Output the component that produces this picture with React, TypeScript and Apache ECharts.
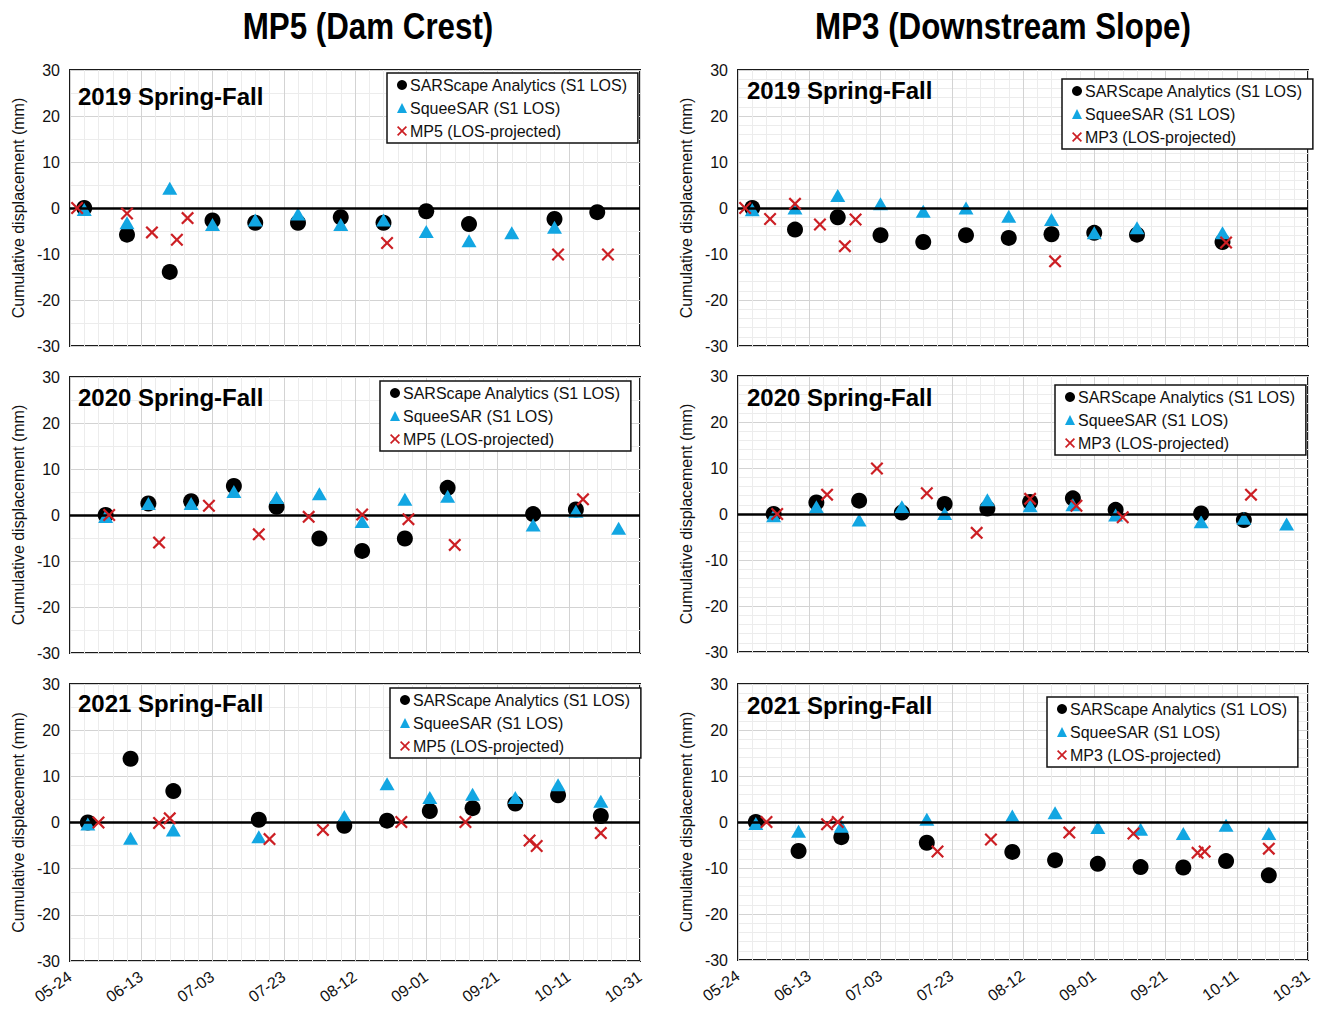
import React, { useEffect, useRef } from "react";
import * as echarts from "echarts";

// ---------- tick labels ----------
const xTickLabels = ["05-24", "06-13", "07-03", "07-23", "08-12", "09-01", "09-21", "10-11", "10-31"];
const yMin = -30;
const yMax = 30;
const yStep = 10;

// ---------- series names ----------
const NAME_SAR = "SARScape Analytics (S1 LOS)";
const NAME_SQ = "SqueeSAR (S1 LOS)";
const NAME_MP5 = "MP5 (LOS-projected)";
const NAME_MP3 = "MP3 (LOS-projected)";

type Pt = [string, number];

// ---------- 2019 MP5 ----------
const mp5_2019_sar: Pt[] = [["05-28", 0], ["06-09", -5.8], ["06-21", -13.9], ["07-03", -2.7], ["07-15", -3.2], ["07-27", -3.2], ["08-08", -2.0], ["08-20", -3.2], ["09-01", -0.7], ["09-13", -3.5], ["10-07", -2.4], ["10-19", -0.9]];
const mp5_2019_sq: Pt[] = [["05-28", -0.3], ["06-09", -3.2], ["06-21", 4.3], ["07-03", -3.6], ["07-15", -2.6], ["07-27", -1.3], ["08-08", -3.6], ["08-20", -2.6], ["09-01", -5.1], ["09-13", -7.1], ["09-25", -5.4], ["10-07", -4.2]];
const mp5_2019_gt: Pt[] = [["05-26", 0], ["06-09", -1.2], ["06-16", -5.3], ["06-23", -6.9], ["06-26", -2.2], ["08-21", -7.6], ["10-08", -10.1], ["10-22", -10.1]];

// ---------- 2019 MP3 ----------
const mp3_2019_sar: Pt[] = [["05-28", 0], ["06-09", -4.7], ["06-21", -2.0], ["07-03", -5.9], ["07-15", -7.4], ["07-27", -5.9], ["08-08", -6.5], ["08-20", -5.7], ["09-01", -5.4], ["09-13", -5.8], ["10-07", -7.4]];
const mp3_2019_sq: Pt[] = [["05-28", -0.4], ["06-09", 0], ["06-21", 2.7], ["07-03", 0.9], ["07-15", -0.7], ["07-27", 0], ["08-08", -1.8], ["08-20", -2.5], ["09-01", -5.4], ["09-13", -4.3], ["10-07", -5.4]];
const mp3_2019_gt: Pt[] = [["05-26", 0], ["06-02", -2.4], ["06-09", 0.9], ["06-16", -3.6], ["06-23", -8.3], ["06-26", -2.5], ["08-21", -11.6], ["10-08", -7.5]];

// ---------- 2020 MP5 ----------
const mp5_2020_sar: Pt[] = [["06-03", 0], ["06-15", 2.5], ["06-27", 3.0], ["07-09", 6.3], ["07-21", 1.8], ["08-02", -5.1], ["08-14", -7.8], ["08-26", -5.1], ["09-07", 5.9], ["10-01", 0.2], ["10-13", 1.2]];
const mp5_2020_sq: Pt[] = [["06-03", -0.3], ["06-15", 2.5], ["06-27", 2.5], ["07-09", 5.1], ["07-21", 3.8], ["08-02", 4.6], ["08-14", -1.4], ["08-26", 3.4], ["09-07", 4.1], ["10-01", -2.2], ["10-13", 0.8], ["10-25", -2.9]];
const mp5_2020_gt: Pt[] = [["06-04", 0], ["06-18", -6.0], ["07-02", 2.0], ["07-16", -4.2], ["07-30", -0.4], ["08-14", 0.1], ["08-27", -0.9], ["09-09", -6.5], ["10-15", 3.4]];

// ---------- 2020 MP3 ----------
const mp3_2020_sar: Pt[] = [["06-03", 0], ["06-15", 2.5], ["06-27", 2.9], ["07-09", 0.3], ["07-21", 2.2], ["08-02", 1.2], ["08-14", 2.6], ["08-26", 3.4], ["09-07", 0.9], ["10-01", 0.1], ["10-13", -1.3]];
const mp3_2020_sq: Pt[] = [["06-03", -0.4], ["06-15", 1.6], ["06-27", -1.3], ["07-09", 1.6], ["07-21", 0.1], ["08-02", 3.1], ["08-14", 1.8], ["08-26", 2.0], ["09-07", -0.2], ["10-01", -1.7], ["10-13", -0.9], ["10-25", -2.2]];
const mp3_2020_gt: Pt[] = [["06-04", 0], ["06-18", 4.2], ["07-02", 9.9], ["07-16", 4.5], ["07-30", -4.1], ["08-14", 3.3], ["08-27", 1.8], ["09-09", -0.7], ["10-15", 4.2]];

// ---------- 2021 MP5 ----------
const mp5_2021_sar: Pt[] = [["05-29", 0], ["06-10", 13.8], ["06-22", 6.8], ["07-16", 0.6], ["08-09", -0.7], ["08-21", 0.4], ["09-02", 2.5], ["09-14", 3.1], ["09-26", 4.1], ["10-08", 5.9], ["10-20", 1.4]];
const mp5_2021_sq: Pt[] = [["05-29", -0.3], ["06-10", -3.4], ["06-22", -1.6], ["07-16", -3.1], ["08-09", 1.3], ["08-21", 8.4], ["09-02", 5.4], ["09-14", 6.1], ["09-26", 5.4], ["10-08", 8.2], ["10-20", 4.6]];
const mp5_2021_gt: Pt[] = [["06-01", 0], ["06-18", -0.1], ["06-21", 0.9], ["07-19", -3.6], ["08-03", -1.6], ["08-25", 0.1], ["09-12", 0.1], ["09-30", -3.9], ["10-02", -5.1], ["10-20", -2.3]];

// ---------- 2021 MP3 ----------
const mp3_2021_sar: Pt[] = [["05-29", 0], ["06-10", -6.3], ["06-22", -3.3], ["07-16", -4.5], ["08-09", -6.5], ["08-21", -8.3], ["09-02", -9.1], ["09-14", -9.8], ["09-26", -9.9], ["10-08", -8.5], ["10-20", -11.6]];
const mp3_2021_sq: Pt[] = [["05-29", -0.3], ["06-10", -2.0], ["06-22", -0.9], ["07-16", 0.6], ["08-09", 1.3], ["08-21", 2.0], ["09-02", -1.2], ["09-14", -1.6], ["09-26", -2.5], ["10-08", -0.7], ["10-20", -2.5]];
const mp3_2021_gt: Pt[] = [["06-01", 0], ["06-18", -0.5], ["06-21", 0], ["07-19", -6.4], ["08-03", -3.8], ["08-25", -2.3], ["09-12", -2.5], ["09-30", -6.7], ["10-02", -6.4], ["10-20", -5.8]];

const panelLabels = ["2019 Spring-Fall", "2019 Spring-Fall", "2020 Spring-Fall", "2020 Spring-Fall", "2021 Spring-Fall", "2021 Spring-Fall"];
const columnTitles = ["MP5 (Dam Crest)", "MP3 (Downstream Slope)"];

const panelData = [
  { sar: mp5_2019_sar, sq: mp5_2019_sq, gt: mp5_2019_gt, gtName: NAME_MP5 },
  { sar: mp3_2019_sar, sq: mp3_2019_sq, gt: mp3_2019_gt, gtName: NAME_MP3 },
  { sar: mp5_2020_sar, sq: mp5_2020_sq, gt: mp5_2020_gt, gtName: NAME_MP5 },
  { sar: mp3_2020_sar, sq: mp3_2020_sq, gt: mp3_2020_gt, gtName: NAME_MP3 },
  { sar: mp5_2021_sar, sq: mp5_2021_sq, gt: mp5_2021_gt, gtName: NAME_MP5 },
  { sar: mp3_2021_sar, sq: mp3_2021_sq, gt: mp3_2021_gt, gtName: NAME_MP3 },
];

// ---------- layout (positions / styles) ----------
const layout = [
  { left: 70, top: 70, height: 276, minorY: 2, showX: false, labelX: 78, labelY: 96, legL: 387, legT: 73 },
  { left: 738, top: 70, height: 276, minorY: 5, showX: false, labelX: 747, labelY: 90, legL: 1062, legT: 79 },
  { left: 70, top: 377, height: 276, minorY: 2, showX: false, labelX: 78, labelY: 397, legL: 380, legT: 381 },
  { left: 738, top: 376, height: 276, minorY: 5, showX: false, labelX: 747, labelY: 397, legL: 1055, legT: 385 },
  { left: 70, top: 684, height: 277, minorY: 2, showX: true, labelX: 78, labelY: 703, legL: 390, legT: 688 },
  { left: 738, top: 684, height: 276, minorY: 5, showX: true, labelX: 747, labelY: 705, legL: 1047, legT: 697 },
];
const PLOT_W = 570;
const FONT = "Arial, 'Liberation Sans', Helvetica, sans-serif";
const C_SAR = "#000000";
const C_SQ = "#12a6e2";
const C_GT = "#cc1f24";
const CROSS = "path://M0,1.2 L1.2,0 L5,3.8 L8.8,0 L10,1.2 L6.2,5 L10,8.8 L8.8,10 L5,6.2 L1.2,10 L0,8.8 L3.8,5 Z";

const BASE = Date.UTC(2019, 4, 24);
function dayOf(mmdd: string): number {
  const [m, d] = mmdd.split("-").map(Number);
  return (Date.UTC(2019, m - 1, d) - BASE) / 86400000;
}
const xMin = dayOf(xTickLabels[0]);
const xMax = dayOf(xTickLabels[xTickLabels.length - 1]);
const xStep = dayOf(xTickLabels[1]) - xMin;

function buildOption() {
  const grid: any[] = [];
  const xAxis: any[] = [];
  const yAxis: any[] = [];
  const series: any[] = [];
  const legend: any[] = [];
  const graphic: any[] = [];

  layout.forEach((L, i) => {
    const P = panelData[i];
    grid.push({
      left: L.left, top: L.top, width: PLOT_W, height: L.height,
      show: true, borderColor: "#1a1a1a", borderWidth: 2, backgroundColor: "transparent",
    });
    xAxis.push({
      type: "value", gridIndex: i, min: xMin, max: xMax, interval: xStep,
      axisLine: { show: false }, axisTick: { show: false },
      axisLabel: {
        show: L.showX, rotate: 35, fontSize: 16, color: "#111", fontFamily: FONT, margin: 14,
        formatter: (v: number) => xTickLabels[Math.round((v - xMin) / xStep)] ?? "",
      },
      splitLine: { show: true, lineStyle: { color: "#d3d3d3", width: 1 } },
      minorTick: { show: false, splitNumber: 5 },
      minorSplitLine: { show: true, lineStyle: { color: "#ececec", width: 1 } },
    });
    yAxis.push({
      type: "value", gridIndex: i, min: yMin, max: yMax, interval: yStep,
      axisLine: { show: false }, axisTick: { show: false },
      axisLabel: { fontSize: 16, color: "#111", fontFamily: FONT, margin: 10 },
      name: "Cumulative displacement (mm)", nameLocation: "middle", nameGap: 44,
      nameTextStyle: { fontSize: 16, color: "#111", fontFamily: FONT },
      splitLine: { show: true, lineStyle: { color: "#d3d3d3", width: 1 } },
      minorTick: { show: false, splitNumber: L.minorY },
      minorSplitLine: { show: true, lineStyle: { color: "#ececec", width: 1 } },
    });
    series.push({
      type: "scatter", name: NAME_SAR, xAxisIndex: i, yAxisIndex: i,
      data: P.sar.map(([d, v]) => [dayOf(d), v]),
      symbol: "circle", symbolSize: 16, itemStyle: { color: C_SAR, opacity: 1 }, silent: true, z: 3,
      markLine: {
        silent: true, symbol: ["none", "none"], label: { show: false },
        lineStyle: { color: "#000", width: 2.5, type: "solid", opacity: 1 },
        data: [{ yAxis: 0 }],
      },
    });
    series.push({
      type: "scatter", name: NAME_SQ, xAxisIndex: i, yAxisIndex: i,
      data: P.sq.map(([d, v]) => [dayOf(d), v]),
      symbol: "triangle", symbolSize: [15, 13], itemStyle: { color: C_SQ, opacity: 1 }, silent: true, z: 4,
    });
    series.push({
      type: "scatter", name: P.gtName, xAxisIndex: i, yAxisIndex: i,
      data: P.gt.map(([d, v]) => [dayOf(d), v]),
      symbol: CROSS, symbolSize: 13, itemStyle: { color: C_GT, opacity: 1 }, silent: true, z: 5,
    });
    legend.push({
      data: [NAME_SAR, NAME_SQ, P.gtName],
      orient: "vertical", left: L.legL, top: L.legT,
      itemWidth: 10, itemHeight: 10, itemGap: 7,
      padding: [4, 10, 4, 10],
      borderColor: "#111", borderWidth: 1.5, backgroundColor: "#fff",
      selectedMode: false,
      itemStyle: { opacity: 1 },
      textStyle: { fontSize: 16, color: "#111", fontFamily: FONT, padding: [0, 0, 0, -2] },
    });
    graphic.push({
      type: "text", x: L.labelX, y: L.labelY, z: 10,
      style: {
        text: panelLabels[i], font: `bold 24px ${FONT}`, fill: "#000",
        textAlign: "left", textVerticalAlign: "middle", align: "left", verticalAlign: "middle",
      },
    });
  });

  const colCenters = [368, 1003];
  columnTitles.forEach((t, c) => {
    graphic.push({
      type: "text", x: colCenters[c], y: 26, scaleX: 0.87, z: 10,
      style: {
        text: t, font: `bold 36px ${FONT}`, fill: "#000",
        textAlign: "center", textVerticalAlign: "middle", align: "center", verticalAlign: "middle",
      },
    });
  });

  return {
    animation: false,
    backgroundColor: "#ffffff",
    grid, xAxis, yAxis, series, legend, graphic,
  };
}

export default function App() {
  const ref = useRef<HTMLDivElement>(null);
  useEffect(() => {
    if (!ref.current) return;
    const chart = echarts.init(ref.current, undefined, { renderer: "svg" });
    chart.setOption(buildOption() as any);
    return () => chart.dispose();
  }, []);
  return (
    <div
      ref={ref}
      style={{ position: "absolute", left: 0, top: 0, width: 1319, height: 1011, background: "#fff" }}
    />
  );
}
